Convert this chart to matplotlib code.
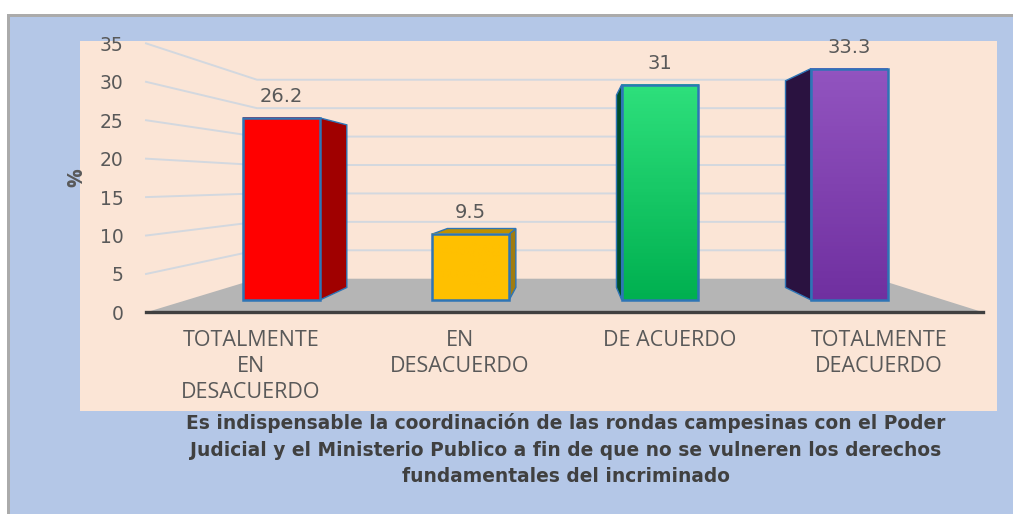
import numpy as np
import matplotlib
matplotlib.use("Agg")
import matplotlib.pyplot as plt
from matplotlib.patches import Polygon, Rectangle
from matplotlib.colors import LinearSegmentedColormap

categories = [
    "TOTALMENTE\nEN\nDESACUERDO",
    "EN\nDESACUERDO",
    "DE ACUERDO",
    "TOTALMENTE\nDEACUERDO",
]
values = [26.2, 9.5, 31, 33.3]
value_labels = ["26.2", "9.5", "31", "33.3"]
y_ticks = [0, 5, 10, 15, 20, 25, 30, 35]
caption = (
    "Es indispensable la coordinación de las rondas campesinas con el Poder\n"
    "Judicial y el Ministerio Publico a fin de que no se vulneren los derechos\n"
    "fundamentales del incriminado"
)

W, H = 1013, 514
TEXT = "#595959"
EDGE = "#2E75B6"
GRID = "#D3D8DF"

# colours: top of bar, bottom of bar, side face, top face
bar_top = ["#FF0000", "#FFC000", "#2EE07C", "#9254C0"]
bar_bottom = ["#FF0000", "#FFC000", "#00B050", "#7030A0"]
bar_side = ["#A00000", "#A07C10", "#004D2B", "#2A1240"]
bar_cap = ["#A00000", "#BF9000", "#1AA060", "#5A2A80"]

# perspective, in data units of the bar plane
vanish_x, vanish_y = 1.535, 16.83
depth_side = 0.107
depth_back = 0.182
depth_front = -0.106
bar_width = 0.405


def project(x, y, t):
    return (x + (vanish_x - x) * t, y + (vanish_y - y) * t)


def add_axes_px(fig, left, right, bottom, top):
    return fig.add_axes([left / W, 1 - bottom / H, (right - left) / W, (bottom - top) / H])


plt.rcParams["font.family"] = ["Open Sans", "DejaVu Sans"]
fig = plt.figure(figsize=(W / 100, H / 100), dpi=100, facecolor="white")

# backgrounds
fig.add_artist(Rectangle((7 / W, 0), 1 - 7 / W, 1 - 14 / H, transform=fig.transFigure, fc="#ABABAB", ec="none", zorder=-3))
fig.add_artist(Rectangle((10 / W, 0), 1 - 10 / W, 1 - 17 / H, transform=fig.transFigure, fc="#B4C7E7", ec="none", zorder=-2))
fig.add_artist(Rectangle((80 / W, 1 - 411 / H), 917 / W, 370 / H, transform=fig.transFigure, fc="#FBE5D6", ec="none", zorder=-1))

# axes of the bar plane
ax = add_axes_px(fig, 186.85, 944.05, 300, 300 - 35 * 6.95)
ax.set_xlim(-0.5, 3.5)
ax.set_ylim(0, 35)
ax.axis("off")

# floor
floor = [project(-0.5, 0, depth_front), project(-0.5, 0, depth_back),
         project(3.5, 0, depth_back), project(3.5, 0, depth_front)]
ax.add_patch(Polygon(floor, closed=True, fc="#B5B5B5", ec="none", zorder=1, clip_on=False))

# walls
for tick in y_ticks[1:]:
    p0 = project(-0.5, tick, depth_front)
    p1 = project(-0.5, tick, depth_back)
    p2 = project(3.5, tick, depth_back)
    ax.plot([p0[0], p1[0], p2[0]], [p0[1], p1[1], p2[1]], color=GRID, lw=1.4, zorder=1, clip_on=False)

# bars
for i, v in enumerate(values):
    left = i - bar_width / 2
    right = i + bar_width / 2
    edge_x = left if i >= 2 else right
    side = [project(edge_x, 0, 0), project(edge_x, v, 0),
            project(edge_x, v, depth_side), project(edge_x, 0, depth_side)]
    ax.add_patch(Polygon(side, closed=True, fc=bar_side[i], ec=EDGE, lw=1, zorder=3, clip_on=False))
    if v < vanish_y:
        cap = [project(left, v, 0), project(right, v, 0),
               project(right, v, depth_side), project(left, v, depth_side)]
        ax.add_patch(Polygon(cap, closed=True, fc=bar_cap[i], ec=EDGE, lw=1, zorder=3, clip_on=False))
    cmap = LinearSegmentedColormap.from_list("bar", [bar_top[i], bar_bottom[i]])
    ax.imshow(np.linspace(0, 1, 64).reshape(-1, 1), cmap=cmap, aspect="auto",
              extent=(left, right, 0, v), origin="upper", zorder=4)
    ax.bar(i, v, width=bar_width, fill=False, edgecolor=EDGE, linewidth=1.8, zorder=5, clip_on=False)
    ax.annotate(value_labels[i], (i, v), xytext=(0, 15.5), textcoords="offset points",
                ha="center", va="center", fontsize=14, color=TEXT, family="DejaVu Sans",
                zorder=6, annotation_clip=False)
ax.set_xlim(-0.5, 3.5)
ax.set_ylim(0, 35)

# front plane: holds the ticks, category labels and axis line
px_y = 6.95
scale = 1 - depth_front
front_left = 572 + (186.85 - 572) * scale
front_right = 572 + (944.05 - 572) * scale
axf = add_axes_px(fig, front_left, front_right, 183 + 117 * scale, 183 + 117 * scale - 35 * px_y * scale)
axf.patch.set_alpha(0)
axf.set_xlim(-0.5, 3.5)
axf.set_ylim(0, 35)
for s in ["top", "right", "left"]:
    axf.spines[s].set_visible(False)
axf.spines["bottom"].set_color("#404040")
axf.spines["bottom"].set_linewidth(2.4)
axf.set_yticks(y_ticks)
axf.set_xticks(range(len(categories)))
axf.set_xticklabels(categories, fontsize=15.5, color=TEXT, linespacing=1.3)
axf.tick_params(axis="x", length=0, pad=13)
axf.tick_params(axis="y", length=0, pad=16)
for lab in axf.get_yticklabels():
    lab.set_fontsize(13.5)
    lab.set_color(TEXT)
    lab.set_family("DejaVu Sans")
axf.set_ylabel("%", fontsize=15, fontweight="bold", color=TEXT, labelpad=9)

fig.text(566 / W, 1 - 449.5 / H, caption, ha="center", va="center", fontsize=13.4,
         fontweight="bold", color="#404040", family="DejaVu Sans", linespacing=1.53)

fig.savefig("out.png", dpi=100)
